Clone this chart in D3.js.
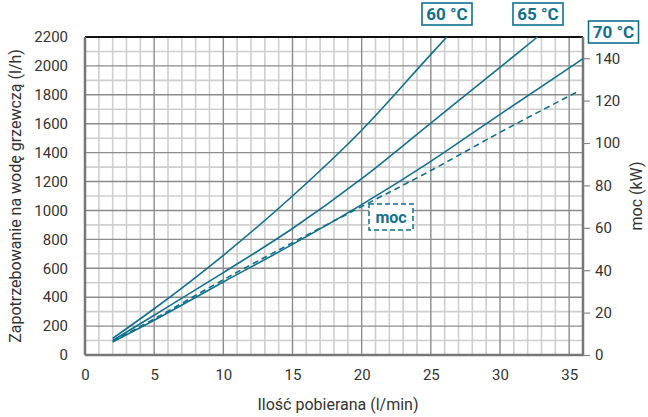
<html>
<head>
<meta charset="utf-8">
<script src="https://cdnjs.cloudflare.com/ajax/libs/d3/7.8.5/d3.min.js"></script>
<style>
  body { margin: 0; background: #fff; }
  svg text { font-family: Roboto, "DejaVu Sans", sans-serif; fill: #333; }
</style>
</head>
<body>
<svg class="chart"></svg>
<script>
// values
var xTicks = [0, 5, 10, 15, 20, 25, 30, 35];
var yTicks = [0, 200, 400, 600, 800, 1000, 1200, 1400, 1600, 1800, 2000, 2200];
var kwTicks = [0, 20, 40, 60, 80, 100, 120, 140];

var flow60 = [2, 5, 10, 15, 20, 25, 26.15];
var need60 = [115, 320, 690, 1100, 1555, 2080, 2200];

var flow65 = [2, 5, 10, 15, 20, 25, 30, 32.7];
var need65 = [100, 275, 570, 875, 1220, 1605, 1990, 2200];

var flow70 = [2, 5, 10, 15, 20, 25, 30, 36];
var need70 = [90, 240, 505, 765, 1040, 1340, 1665, 2050];

var flowMoc = [2, 5, 10, 15, 20, 25, 30, 35.7];
var powerMoc = [6.5, 17, 35.5, 53, 70, 87, 105, 124.5];

var seriesLabels = ["60 °C", "65 °C", "70 °C"];

var W = 648, H = 417;
var margin = {top: 37, right: 65, bottom: 62, left: 85};
var width = 583 - margin.left;
var height = 355 - margin.top;
var blue = "#12708f";

var svg = d3.select(".chart").attr("width", W).attr("height", H);
var chart = svg.append("g").attr("transform", "translate(" + margin.left + "," + margin.top + ")");

var x = d3.scaleLinear().domain([0, 36]).range([0, width]);
var y = d3.scaleLinear().domain([0, 2200]).range([height, 0]);
var yKw = d3.scaleLinear().domain([0, 150]).range([height, 0]);

// grid
chart.append("g").selectAll("line").data(d3.range(1, 36).filter(function(v){ return v % 5 != 0; }))
  .enter().append("line")
  .attr("x1", function(d){ return x(d); }).attr("x2", function(d){ return x(d); })
  .attr("y1", 0).attr("y2", height)
  .attr("stroke", "#cfcfcf").attr("stroke-width", 1.6);
chart.append("g").selectAll("line").data(d3.range(100, 2200, 200))
  .enter().append("line")
  .attr("x1", 0).attr("x2", width)
  .attr("y1", function(d){ return y(d); }).attr("y2", function(d){ return y(d); })
  .attr("stroke", "#cfcfcf").attr("stroke-width", 1.6);
chart.append("g").selectAll("line").data([5, 10, 15, 20, 25, 30, 35])
  .enter().append("line")
  .attr("x1", function(d){ return x(d); }).attr("x2", function(d){ return x(d); })
  .attr("y1", 0).attr("y2", height)
  .attr("stroke", "#8c8c8c").attr("stroke-width", 1.4);
chart.append("g").selectAll("line").data(d3.range(200, 2200, 200))
  .enter().append("line")
  .attr("x1", 0).attr("x2", width)
  .attr("y1", function(d){ return y(d); }).attr("y2", function(d){ return y(d); })
  .attr("stroke", "#8c8c8c").attr("stroke-width", 1.4);

// frame
chart.append("line").attr("x1", 0).attr("x2", width).attr("y1", 0).attr("y2", 0)
  .attr("stroke", "#111").attr("stroke-width", 2);
chart.append("line").attr("x1", 0).attr("x2", width).attr("y1", height).attr("y2", height)
  .attr("stroke", "#777").attr("stroke-width", 2.5);
chart.append("line").attr("x1", 0).attr("x2", 0).attr("y1", 0).attr("y2", height)
  .attr("stroke", "#777").attr("stroke-width", 2.5);
chart.append("line").attr("x1", width).attr("x2", width).attr("y1", 0).attr("y2", height)
  .attr("stroke", "#777").attr("stroke-width", 2.5);

// axes
var xAxis = chart.append("g").attr("transform", "translate(0," + height + ")")
  .call(d3.axisBottom(x).tickValues(xTicks).tickSize(0).tickPadding(14));
var yAxis = chart.append("g")
  .call(d3.axisLeft(y).tickValues(yTicks).tickFormat(d3.format("d")).tickSize(0).tickPadding(17));
var kwAxis = chart.append("g").attr("transform", "translate(" + width + ",0)")
  .call(d3.axisRight(yKw).tickValues(kwTicks).tickSize(7).tickPadding(5));
[xAxis, yAxis, kwAxis].forEach(function(a){
  a.select(".domain").remove();
  a.selectAll("text").style("font-size", "15px").attr("fill", "#3a3a3a");
  a.selectAll("line").attr("stroke", "#888").attr("stroke-width", 1.2);
});

// curves
var line = d3.line().curve(d3.curveMonotoneX)
  .x(function(d){ return x(d[0]); }).y(function(d){ return y(d[1]); });
var kwLine = d3.line().curve(d3.curveMonotoneX)
  .x(function(d){ return x(d[0]); }).y(function(d){ return yKw(d[1]); });

[[flow60, need60], [flow65, need65], [flow70, need70]].forEach(function(s){
  chart.append("path").datum(d3.zip(s[0], s[1]))
    .attr("d", line).attr("fill", "none").attr("stroke", blue).attr("stroke-width", 1.6);
});
chart.append("path").datum(d3.zip(flowMoc, powerMoc))
  .attr("d", kwLine).attr("fill", "none").attr("stroke", blue).attr("stroke-width", 1.6)
  .attr("stroke-dasharray", "6,4");

// series labels
var boxes = [{cx: 447, cy: 14}, {cx: 538, cy: 14}, {cx: 613.5, cy: 32}];
boxes.forEach(function(b, i){
  var g = svg.append("g").attr("transform", "translate(" + b.cx + "," + b.cy + ")");
  g.append("rect").attr("x", -25).attr("y", -11).attr("width", 50).attr("height", 22)
    .attr("fill", "#fff").attr("stroke", blue).attr("stroke-width", 1.6);
  g.append("text").attr("text-anchor", "middle").attr("dy", "0.36em")
    .style("font-size", "17px").style("font-weight", "bold").style("fill", blue)
    .text(seriesLabels[i]);
});

// moc label
var mg = svg.append("g").attr("transform", "translate(391,217)");
mg.append("rect").attr("x", -22).attr("y", -13).attr("width", 44).attr("height", 26)
  .attr("fill", "#fff").attr("stroke", blue).attr("stroke-width", 1.5).attr("stroke-dasharray", "5,3");
mg.append("text").attr("text-anchor", "middle").attr("dy", "0.36em")
  .style("font-size", "16px").style("font-weight", "bold").style("fill", blue).text("moc");

// titles
svg.append("text").attr("x", 338).attr("y", 410).attr("text-anchor", "middle")
  .style("font-size", "16px").text("Ilość pobierana (l/min)");
svg.append("text").attr("transform", "translate(21,196) rotate(-90)").attr("text-anchor", "middle")
  .style("font-size", "16px").text("Zapotrzebowanie na wodę grzewczą (l/h)");
svg.append("text").attr("transform", "translate(642,196) rotate(-90)").attr("text-anchor", "middle")
  .style("font-size", "16px").text("moc (kW)");
</script>
</body>
</html>
